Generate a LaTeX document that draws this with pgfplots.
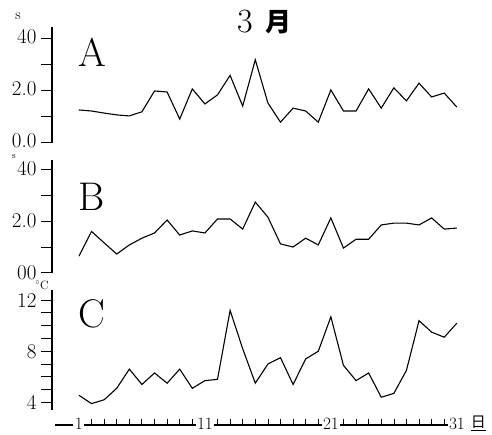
\documentclass[border=0pt]{standalone}
\usepackage{fontspec}
\usepackage{pgfplots}
\pgfplotsset{compat=1.18}
\newfontfamily\cjk{Noto Sans CJK SC}

\pgfplotsset{
  panel/.style={
    scale only axis,
    xmin=-1.14, xmax=33, width=430pt,
    axis x line=none, axis y line=left,
    axis line style={-, line width=1.1pt},
    tick align=outside,
    major tick length=11pt,
    tick style={black, line width=1pt},
    yticklabel style={font=\fontsize{21}{21}\selectfont, xshift=-1pt},
    clip=false,
  },
  series/.style={black, line width=1.1pt, no marks},
}

\begin{document}
\begin{tikzpicture}
\path[use as bounding box] (0,0) rectangle (492pt,435pt);

% panel A
\begin{axis}[panel, at={(52pt,292pt)}, anchor=south west,
  ymin=0, ymax=44.6, height=116pt,
  ytick={0,10,20,30,40}, yticklabels={0.0,,2.0,,40},
  yticklabel style={yshift=2pt}]
\addplot[series] coordinates {
(1,12.7) (2,12.3) (3,11.5) (4,10.8) (5,10.4) (6,12) (7,20) (8,19.6) (9,9.2) (10,20.8)
(11,15) (12,18.5) (13,26) (14,14.2) (15,32) (16,15.4) (17,8) (18,13.4) (19,12.3) (20,8)
(21,20.4) (22,12.3) (23,12.3) (24,20.8) (25,13.4) (26,21.2) (27,16.2) (28,23) (29,17.7) (30,19.2)
(31,13.8)};
\end{axis}

% panel B
\begin{axis}[panel, at={(52pt,162pt)}, anchor=south west,
  ymin=0, ymax=43.5, height=113pt,
  ytick={0,10,20,30,40}, yticklabels={00,,2.0,,40}]
\addplot[series] coordinates {
(1,6.5) (2,16) (3,11.6) (4,7.3) (5,10.8) (6,13.4) (7,15.4) (8,20.4) (9,14.6) (10,16.2)
(11,15.4) (12,20.8) (13,20.8) (14,16.9) (15,27.3) (16,21.5) (17,11.2) (18,10) (19,13.4) (20,10.8)
(21,21.2) (22,9.6) (23,13) (24,13) (25,18.5) (26,19.2) (27,19.2) (28,18.5) (29,21.2) (30,16.9)
(31,17.3)};
\end{axis}

% panel C
\begin{axis}[panel, at={(52pt,25pt)}, anchor=south west,
  ymin=3.4, ymax=12.8, height=120pt,
  ytick={4,5,6,7,8,9,10,11,12}, yticklabels={4,,,,8,,,,12}]
\addplot[series] coordinates {
(1,4.55) (2,3.9) (3,4.2) (4,5.1) (5,6.6) (6,5.4) (7,6.3) (8,5.5) (9,6.6) (10,5.1)
(11,5.7) (12,5.8) (13,11.2) (14,8.2) (15,5.5) (16,7.0) (17,7.5) (18,5.4) (19,7.4) (20,8.0)
(21,10.7) (22,6.9) (23,5.7) (24,6.3) (25,4.4) (26,4.7) (27,6.5) (28,10.4) (29,9.5) (30,9.1)
(31,10.2)};
\end{axis}

% day axis
\begin{axis}[scale only axis, at={(55pt,10pt)}, anchor=south west,
  xmin=-0.9, xmax=31.4, width=407pt, ymin=0, ymax=1, height=10pt,
  axis y line=none, axis x line=bottom,
  axis line style={-, line width=1.1pt},
  xtick={1,11,21,31},
  minor xtick={2,3,4,5,6,7,8,9,10,12,13,14,15,16,17,18,19,20,22,23,24,25,26,27,28,29,30},
  tick align=inside, major tick length=0pt, minor tick length=6pt,
  tick style={black, line width=0.9pt},
  xticklabel style={font=\fontsize{18}{18}\selectfont, anchor=center, fill=white, inner sep=1.5pt, yshift=1pt},
  clip=false]
\addplot[draw=none] coordinates {(1,0) (31,0)};
\node[font=\cjk\fontsize{15}{15}\selectfont, inner sep=0pt] at (axis cs:32.7,0.15) {\underline{日}};
\end{axis}

% labels
\node[font=\fontsize{15}{15}\selectfont] at (18pt,419pt) {s};
\node[font=\fontsize{9}{9}\selectfont] at (14pt,278pt) {s};
\node[font=\fontsize{12}{12}\selectfont] at (42pt,150pt) {$^\circ$C};
\node[font=\fontsize{40}{40}\selectfont] at (92pt,383pt) {A};
\node[font=\fontsize{40}{40}\selectfont] at (92pt,238pt) {B};
\node[font=\fontsize{40}{40}\selectfont] at (92pt,121pt) {C};
\node[font=\fontsize{34}{34}\selectfont] at (245pt,413pt) {3};
\node[font=\cjk\bfseries\fontsize{26}{26}\selectfont] at (278pt,413pt) {月};
\end{tikzpicture}
\end{document}
